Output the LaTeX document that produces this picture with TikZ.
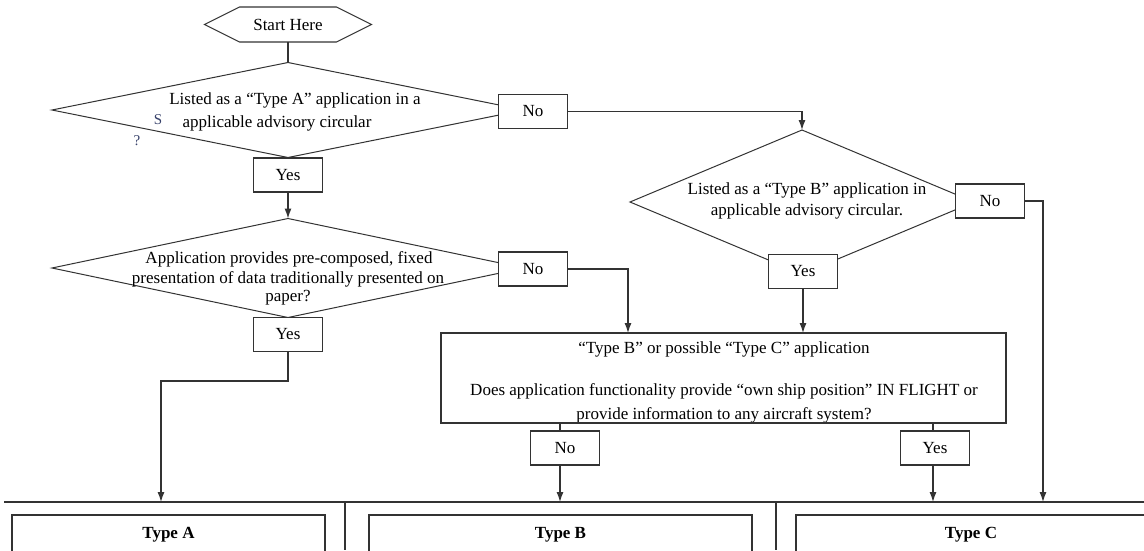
\documentclass[tikz,border=0pt]{standalone}
\usepackage{fontspec}
\setmainfont{Liberation Serif}
\usetikzlibrary{shapes.geometric,arrows.meta}
\definecolor{ln}{rgb}{0.2,0.2,0.2}
\definecolor{stray}{rgb}{0.22,0.26,0.42}
\tikzset{
  every node/.style={font=\fontsize{17}{21}\selectfont},
  dia/.style={diamond, draw=ln, line width=1pt, inner sep=0pt, outer sep=0pt},
  lbl/.style={inner sep=0pt, align=center},
  yn/.style={draw=ln, line width=1.4pt, fill=white, minimum width=69pt, minimum height=34pt, inner sep=0pt, outer sep=0pt},
  conn/.style={draw=ln, line width=1.2pt},
  arr/.style={conn, -{Latex[length=10pt,width=7pt]}},
  bigbox/.style={draw=ln, line width=1.4pt, inner sep=0pt, outer sep=0pt},
  typebox/.style={draw=ln, line width=1.4pt, inner sep=0pt, outer sep=0pt},
  typelbl/.style={inner sep=0pt, font=\fontsize{17}{21}\selectfont\bfseries}
}
\begin{document}
\begin{tikzpicture}[x=1pt,y=-1pt]
\useasboundingbox (0,0) rectangle (1144,550);
\fill[white] (0,0) rectangle (1144,550);

% Start
\node[minimum width=167pt, minimum height=35pt, inner sep=0pt, outer sep=0pt] (start) at (288,24.5) {Start Here};
\draw[ln, line width=1.1pt] (start.west) -- ([xshift=35pt]start.north west) -- ([xshift=-35pt]start.north east) -- (start.east) -- ([xshift=-35pt]start.south east) -- ([xshift=35pt]start.south west) -- cycle;

% Diamonds
\node[dia, minimum width=472pt, minimum height=95pt] (d1) at (288,110) {};
\node[dia, minimum width=472pt, minimum height=99pt] (d2) at (288,268) {};
\node[dia, minimum width=344pt, minimum height=144pt] (d3) at (802,202) {};

\draw[conn] (start.south) -- (d1.north);

% Diamond texts
\node[lbl] (d1a) at (295,100) {Listed as a “Type A” application in a};
\node[lbl] (d1b) at (277,123) {applicable advisory circular};
\node[lbl, text=stray, font=\fontsize{15}{18}\selectfont] (s1) at (158,120) {S};
\node[lbl, text=stray, font=\fontsize{15}{18}\selectfont] (q1) at (137,141) {?};

\node[lbl] (d2a) at (289,259) {Application provides pre-composed, fixed};
\node[lbl] (d2b) at (288,279) {presentation of data traditionally presented on};
\node[lbl] (d2c) at (288,298) {paper?};

\node[lbl] (d3a) at (807,190) {Listed as a “Type B” application in};
\node[lbl] (d3b) at (807,211) {applicable advisory circular.};

% Yes / No boxes
\node[yn] (no1) at (533,111.5) {No};
\node[yn] (yes1) at (288,175) {Yes};
\node[yn] (no2) at (533,269) {No};
\node[yn] (yes2) at (288,334.5) {Yes};
\node[yn] (no3) at (990,201) {No};
\node[yn] (yes3) at (803,271.5) {Yes};
\node[yn] (no4) at (565,448) {No};
\node[yn] (yes4) at (935,448) {Yes};

% Big box
\node[bigbox, minimum width=565pt, minimum height=90pt] (big) at (723.5,378) {};
\begin{scope}
\clip (big.south west) rectangle (big.north east);
\node[lbl] (b1) at (724,349) {“Type B” or possible “Type C” application};
\node[lbl] (b2) at (724,391) {Does application functionality provide “own ship position” IN FLIGHT or};
\node[lbl, anchor=base] (b3) at (724,419.5) {provide information to any aircraft system?};
\end{scope}
\draw[ln, line width=1.4pt] (big.south west) -- (big.south east);

% Bottom structure
\coordinate (hl) at (4,502);
\coordinate (hr) at (1144,502);
\draw[conn, line width=1.4pt] (hl) -- (hr);
\coordinate (v1t) at (345,502);
\coordinate (v1b) at (345,550);
\coordinate (v2t) at (776,502);
\coordinate (v2b) at (776,550);
\draw[conn, line width=1.3pt] (v1t) -- (v1b);
\draw[conn, line width=1.3pt] (v2t) -- (v2b);
\node[typebox, minimum width=313pt, minimum height=45pt, anchor=north west] (boxa) at (12,515) {};
\node[typebox, minimum width=383pt, minimum height=45pt, anchor=north west] (boxb) at (369,515) {};
\node[typebox, minimum width=350pt, minimum height=45pt, anchor=north west] (boxc) at (796,515) {};
\node[typelbl] (ta) at (168.5,535) {Type A};
\node[typelbl] (tb) at (560.5,535) {Type B};
\node[typelbl] (tc) at (971,535) {Type C};
\coordinate (ea) at (161,502);
\coordinate (eb) at (560,502);
\coordinate (ec) at (933,502);
\coordinate (ed) at (1043,502);
\coordinate (bendA) at (288,381);
\coordinate (inB) at (628,333);
\coordinate (outNo) at (560,423);
\coordinate (outYes) at (933,423);

% Connectors
\draw[arr] (no1.east) -| (d3.north);
\draw[arr] (yes1.south) -- (d2.north);
\draw[arr] (no2.east) -| (inB);
\draw[arr] (yes3.south) -- (yes3.south |- big.north);
\draw[arr] (no3.east) -| (ed);
\draw[arr] (yes2.south) -- (bendA) -| (ea);
\draw[conn] (outNo) -- (outNo |- no4.north);
\draw[arr] (outNo |- no4.south) -- (eb);
\draw[conn] (outYes) -- (outYes |- yes4.north);
\draw[arr] (outYes |- yes4.south) -- (ec);
\end{tikzpicture}
\end{document}
